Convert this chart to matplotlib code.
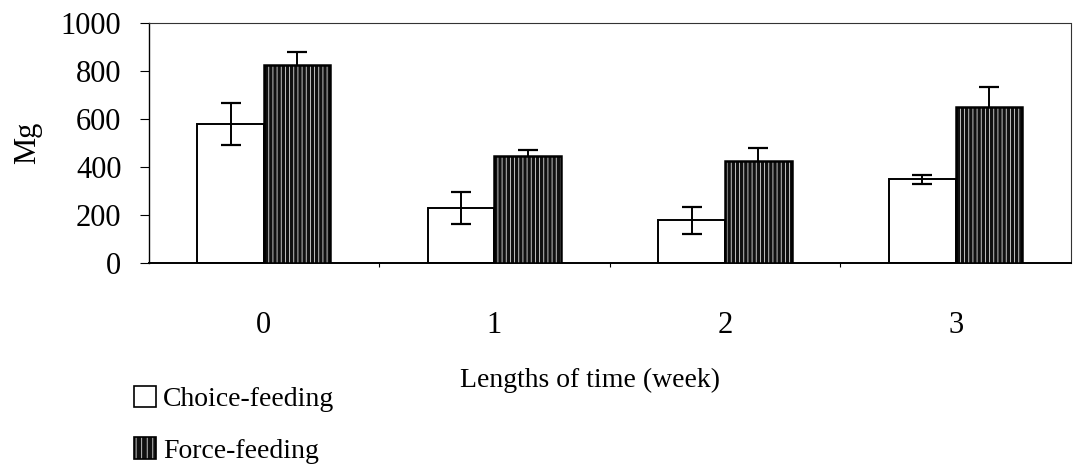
import matplotlib
matplotlib.use('Agg')
import matplotlib.pyplot as plt
from matplotlib.patches import Patch
import numpy as np

weeks = ['0', '1', '2', '3']
choice = [579, 232, 180, 350]
choice_err = [87, 67, 56, 18]
force = [826, 447, 426, 653]
force_err = [56, 25, 53, 80]

plt.rcParams['font.family'] = ['Liberation Serif', 'DejaVu Serif']
plt.rcParams['hatch.linewidth'] = 0.6

fig = plt.figure(figsize=(10.74, 4.70), dpi=100)
ax = fig.add_axes([0.1383, 0.4398, 0.8589, 0.5106])

x = np.arange(len(weeks))
w = 0.289
dark = '#101010'

# choice-feeding: plain white bars
ax.bar(x - w / 2, choice, w, color='white', edgecolor='black', linewidth=1.4, zorder=2)
ax.errorbar(x - w / 2, choice, yerr=choice_err, fmt='none', ecolor='black',
            elinewidth=1.4, capsize=7, capthick=1.6, zorder=3)

# force-feeding: dark fill with white vertical streaks
ax.errorbar(x + w / 2, force, yerr=force_err, fmt='none', ecolor='black',
            elinewidth=1.4, capsize=7, capthick=1.6, zorder=3)
ax.bar(x + w / 2, force, w, color=dark, edgecolor='#dddddd', hatch='||||',
       linewidth=0, zorder=4)
ax.bar(x + w / 2, force, w, fill=False, edgecolor='black', linewidth=1.8, zorder=5)

ax.set_xlim(-0.5, len(weeks) - 0.5)
ax.set_ylim(0, 1000)
ax.set_yticks([0, 200, 400, 600, 800, 1000])
ax.tick_params(axis='y', direction='out', length=6.5, width=0.8, pad=13, labelsize=22)

ax.set_xticks(x)
ax.set_xticklabels(weeks)
ax.set_xticks(np.arange(0.5, len(weeks) - 0.5, 1), minor=True)
ax.tick_params(axis='x', which='major', length=0, pad=34, labelsize=22)
ax.tick_params(axis='x', which='minor', direction='out', length=3, width=0.8)

for s in ['top', 'right']:
    ax.spines[s].set_linestyle((0, (2, 1)))
    ax.spines[s].set_linewidth(0.8)
    ax.spines[s].set_color('#333333')
ax.spines['left'].set_linewidth(1.0)
ax.spines['bottom'].set_linewidth(1.4)

ax.set_ylabel('Mg', fontsize=22)
ax.yaxis.label.set_va('center')
ax.yaxis.set_label_coords(-0.131, 0.5)
ax.set_xlabel('Lengths of time (week)', fontsize=20)
ax.xaxis.label.set_va('center')
ax.xaxis.set_label_coords(0.479, -0.49)

choice_h = Patch(facecolor='white', edgecolor='black', linewidth=1.2)
force_h = (Patch(facecolor=dark, edgecolor='#dddddd', hatch='|||', linewidth=0),
           Patch(fill=False, edgecolor='black', linewidth=1.2))
fig.legend([choice_h, force_h], ['Choice-feeding', 'Force-feeding'],
           loc='upper left', bbox_to_anchor=(134 / 1074, 1 - 386 / 470),
           frameon=False, fontsize=20, handlelength=0.8, handleheight=0.8,
           handletextpad=0.25, labelspacing=0.9, borderpad=0, borderaxespad=0)

fig.savefig('out.png', dpi=100)
